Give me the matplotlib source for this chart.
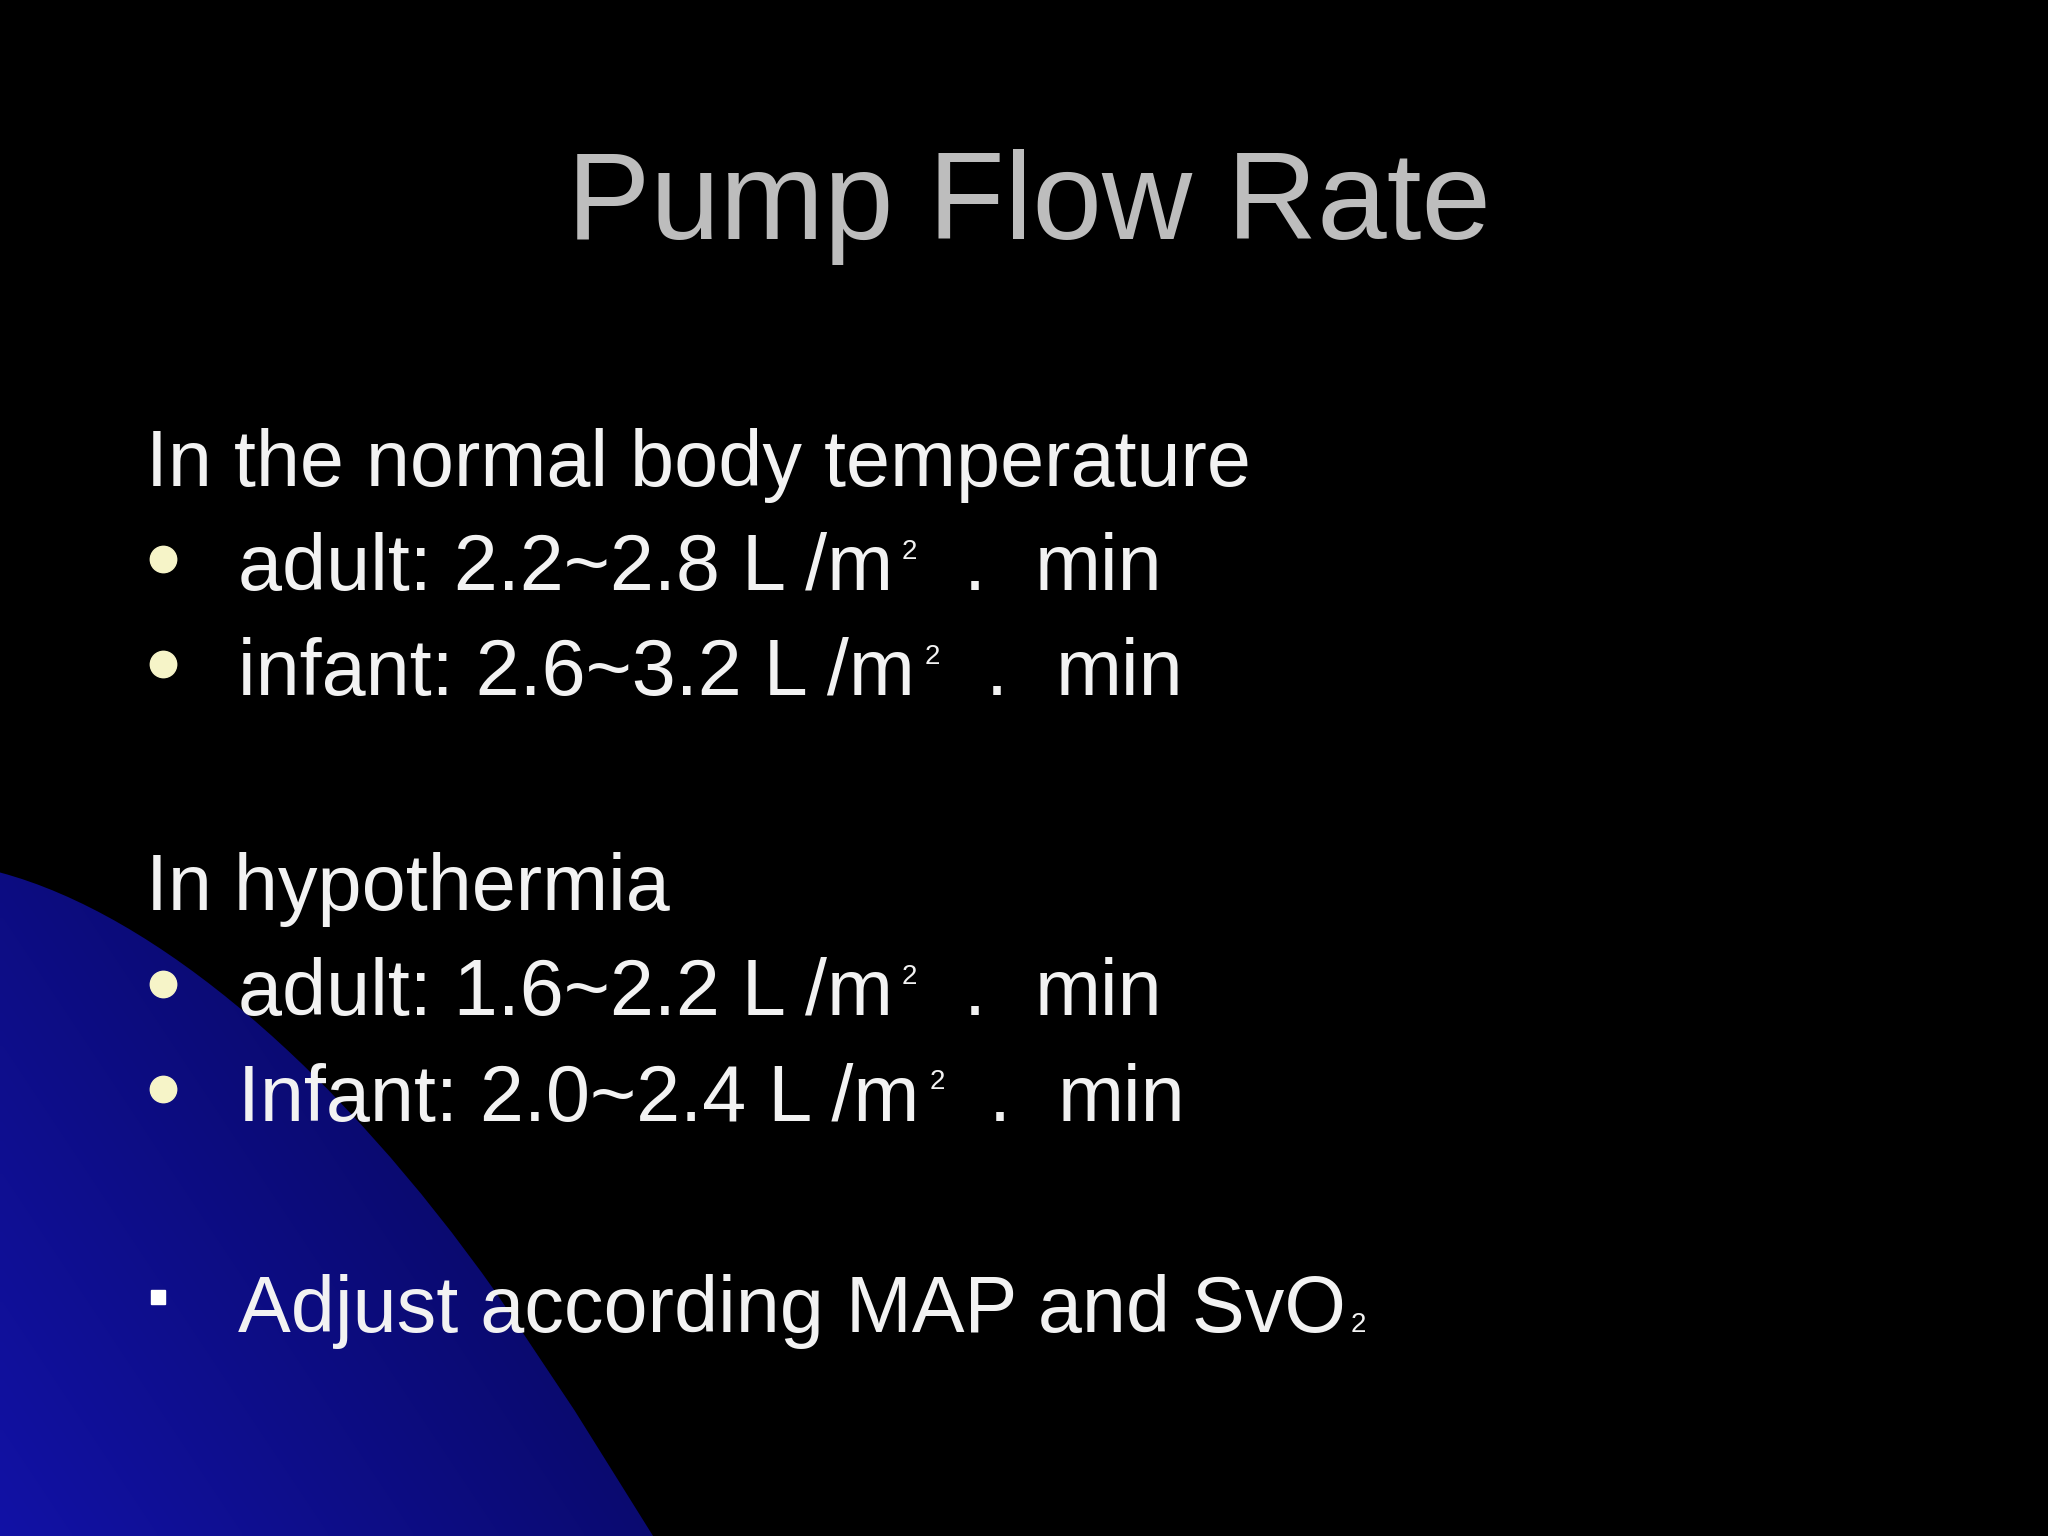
import matplotlib
matplotlib.use("Agg")
import matplotlib.pyplot as plt
import numpy as np
from matplotlib.path import Path
from matplotlib.patches import PathPatch

W, H = 1568, 1176
title = "Pump Flow Rate"
headers = ["In the normal body temperature", "In hypothermia"]
header_y = [372, 697]
bullet_main = ["adult: 2.2~2.8 L /m", "infant: 2.6~3.2 L /m", "adult: 1.6~2.2 L /m", "Infant: 2.0~2.4 L /m"]
bullet_y = [452, 532, 777, 858]
sup_x = [690, 708, 690, 712]
dot_x = [738, 755, 738, 757]
min_x = [792, 808, 792, 810]
last_text = "Adjust according MAP and SvO"

fig = plt.figure(figsize=(20.48, 15.36), dpi=100)
fig.patch.set_facecolor("black")
ax = fig.add_axes([0, 0, 1, 1])
ax.set_xlim(0, W); ax.set_ylim(H, 0); ax.axis("off")
ax.set_facecolor("black")

path = Path([(0, 668), (120, 700), (260, 820), (380, 990), (440, 1080), (500, 1176), (0, 1176), (0, 668)],
            [Path.MOVETO] + [Path.CURVE4]*3 + [Path.LINETO]*4)
patch = PathPatch(path, facecolor="none", edgecolor="none")
ax.add_patch(patch)
yy, xx = np.mgrid[0:H:4, 0:W:4]
d = np.clip((xx * 0.6 + (H - yy) * 0.4) / 500.0, 0, 1)
img = np.zeros(xx.shape + (3,))
img[..., 0] = 0.05 * (1 - d) + 0.02
img[..., 1] = 0.05 * (1 - d) + 0.02
img[..., 2] = 0.35 * (1 - d) + 0.30
im = ax.imshow(img, extent=[0, W, H, 0], zorder=0, interpolation="bilinear")
im.set_clip_path(patch)

fam = ["Liberation Sans", "DejaVu Sans"]
tc = "#f2f2f2"
fs = 57
ax.text(788, 183, title, color="#bdbdbd", fontsize=90, ha="center", va="baseline", family=fam)
for t, y in zip(headers, header_y):
    ax.text(112, y, t, color=tc, fontsize=fs, va="baseline", family=fam)
for t, y, sx, dx, mx in zip(bullet_main, bullet_y, sup_x, dot_x, min_x):
    ax.plot(125, y - 24, "o", color="#f6f4c8", markersize=19, zorder=5)
    ax.text(182, y, t, color=tc, fontsize=fs, va="baseline", family=fam)
    ax.text(sx, y - 24, "2", color=tc, fontsize=20, va="baseline", family=fam)
    ax.text(dx, y, ".", color=tc, fontsize=fs, va="baseline", family=fam)
    ax.text(mx, y, "min", color=tc, fontsize=fs, va="baseline", family=fam)
ax.plot(121, 993, "s", color="white", markersize=10, zorder=5)
ax.text(182, 1020, last_text, color=tc, fontsize=fs, va="baseline", family=fam)
ax.text(1034, 1020, "2", color=tc, fontsize=20, va="baseline", family=fam)

fig.savefig("out.png", dpi=100, facecolor="black")
